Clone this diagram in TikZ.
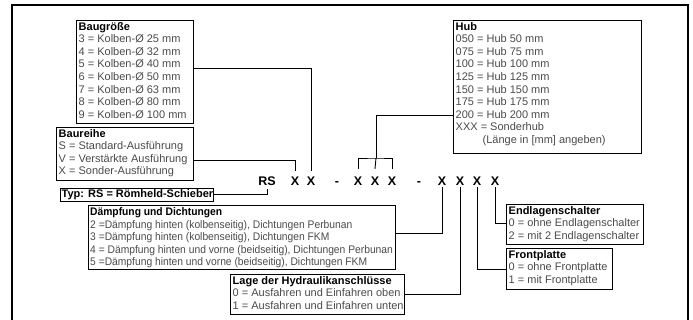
\documentclass[tikz,border=0pt]{standalone}
\usepackage{fontspec}
\usepackage{graphicx}
\setmainfont{Liberation Sans}
\definecolor{txtgray}{HTML}{4A4A4A}
\newcommand{\wtext}[2]{\scalebox{#1}[1]{\begin{tabular}{@{}l@{}}#2\end{tabular}}}
\newcommand{\ttl}[1]{\textcolor{black}{\textbf{#1}}}
\begin{document}
\begin{tikzpicture}[x=1pt,y=-1pt,
  box/.style={draw=black,line width=1.3pt,inner sep=0pt,anchor=north west},
  txt/.style={inner sep=0pt,anchor=north west,align=left,text=txtgray,
    font={\fontsize{11}{12.6}\selectfont}},
  code/.style={inner sep=0pt,anchor=base,text height=9pt,text depth=0pt,
    font={\fontsize{12.5}{14}\selectfont\bfseries}},
  conn/.style={draw=black,line width=0.9pt}]
\useasboundingbox (0,0) rectangle (693,320);
% outer frame
\coordinate (fbl) at (12,320);
\coordinate (ftl) at (12,5);
\coordinate (ftr) at (688,5);
\coordinate (fbr) at (688,320);
\draw[line width=2.4pt] (fbl) -- (ftl) -- (ftr) -- (fbr);

% boxes
\node[box,minimum width=117pt,minimum height=103pt] (baug) at (76,20) {};
\node[box,minimum width=137pt,minimum height=53pt] (baur) at (56,127) {};
\node[box,minimum width=153pt,minimum height=13pt] (typ) at (60,188) {};
\node[box,minimum width=307pt,minimum height=64pt] (daem) at (88,205) {};
\node[box,minimum width=174pt,minimum height=40pt] (lage) at (230,274) {};
\node[box,minimum width=188pt,minimum height=133pt] (hub) at (453,20) {};
\node[box,minimum width=137pt,minimum height=40pt] (endl) at (506,204) {};
\node[box,minimum width=106pt,minimum height=41pt] (front) at (506,248) {};

% texts
\node[txt] (baugt) at (78.5,22) {\ttl{Baugröße}\\
3 = Kolben-Ø 25 mm\\4 = Kolben-Ø 32 mm\\5 = Kolben-Ø 40 mm\\6 = Kolben-Ø 50 mm\\
7 = Kolben-Ø 63 mm\\8 = Kolben-Ø 80 mm\\9 = Kolben-Ø 100 mm};
\node[txt] (baurt) at (58.5,129) {\ttl{Baureihe}\\
S = Standard-Ausführung\\V = Verstärkte Ausführung\\X = Sonder-Ausführung};
\node[txt] (typt) at (61.5,189.5) {\ttl{Typ: RS = Römheld-Schieber}};
\node[txt,align=none] (daemt) at (90,206.5) {\wtext{0.935}{\ttl{Dämpfung und Dichtungen}\\
2 =Dämpfung hinten (kolbenseitig), Dichtungen Perbunan\\
3 =Dämpfung hinten (kolbenseitig), Dichtungen FKM\\
4 = Dämpfung hinten und vorne (beidseitig), Dichtungen Perbunan\\
5 =Dämpfung hinten und vorne (beidseitig), Dichtungen FKM}};
\node[txt] (laget) at (232.5,276) {\ttl{Lage der Hydraulikanschlüsse}\\
0 = Ausfahren und Einfahren oben\\1 = Ausfahren und Einfahren unten};
\node[txt] (hubt) at (455.5,22) {\ttl{Hub}\\
050 = Hub 50 mm\\075 = Hub 75 mm\\100 = Hub 100 mm\\125 = Hub 125 mm\\
150 = Hub 150 mm\\175 = Hub 175 mm\\200 = Hub 200 mm\\XXX = Sonderhub\\
\hspace*{27pt}(Länge in [mm] angeben)};
\node[txt] (endlt) at (508.5,206) {\ttl{Endlagenschalter}\\
0 = ohne Endlagenschalter\\2 = mit 2 Endlagenschalter};
\node[txt] (frontt) at (508.5,250) {\ttl{Frontplatte}\\
0 = ohne Frontplatte\\1 = mit Frontplatte};

% code line
\node[code] (rs) at (267,186) {RS};
\node[code] (x1) at (295,186) {X};
\node[code] (x2) at (311,186) {X};
\node[code] (d1) at (337,186) {-};
\node[code] (x3) at (358,186) {X};
\node[code] (x4) at (375,186) {X};
\node[code] (x5) at (392,186) {X};
\node[code] (d2) at (419,186) {-};
\node[code] (x6) at (442,186) {X};
\node[code] (x7) at (460,186) {X};
\node[code] (x8) at (477,186) {X};
\node[code] (x9) at (495,186) {X};

% connectors
\draw[conn] (baug.north east) ++(0,48) -| ([yshift=6pt]x2.north);
\draw[conn] (baur.north east) ++(0,33) -| ([yshift=6pt]x1.north);
\draw[conn] (typ.north east) ++(0,6) -| ([yshift=-3pt]rs.south);
\coordinate (brk) at (376,158);
\draw[conn] (hub.north west) ++(0,95) -| (brk);
\draw[conn] ([yshift=8pt]x3.north) |- (brk) -| ([yshift=8pt]x5.north);
\draw[conn] (brk) -- ([yshift=8pt]x4.north);
\draw[conn] (daem.north east) ++(0,28) -| ([yshift=-1pt]x6.south);
\draw[conn] (lage.north east) ++(0,20) -| ([yshift=-1pt]x7.south);
\draw[conn] (front.north west) ++(0,21) -| ([yshift=-1pt]x8.south);
\draw[conn] (endl.north west) ++(0,19) -| ([yshift=-1pt]x9.south);
\end{tikzpicture}
\end{document}
